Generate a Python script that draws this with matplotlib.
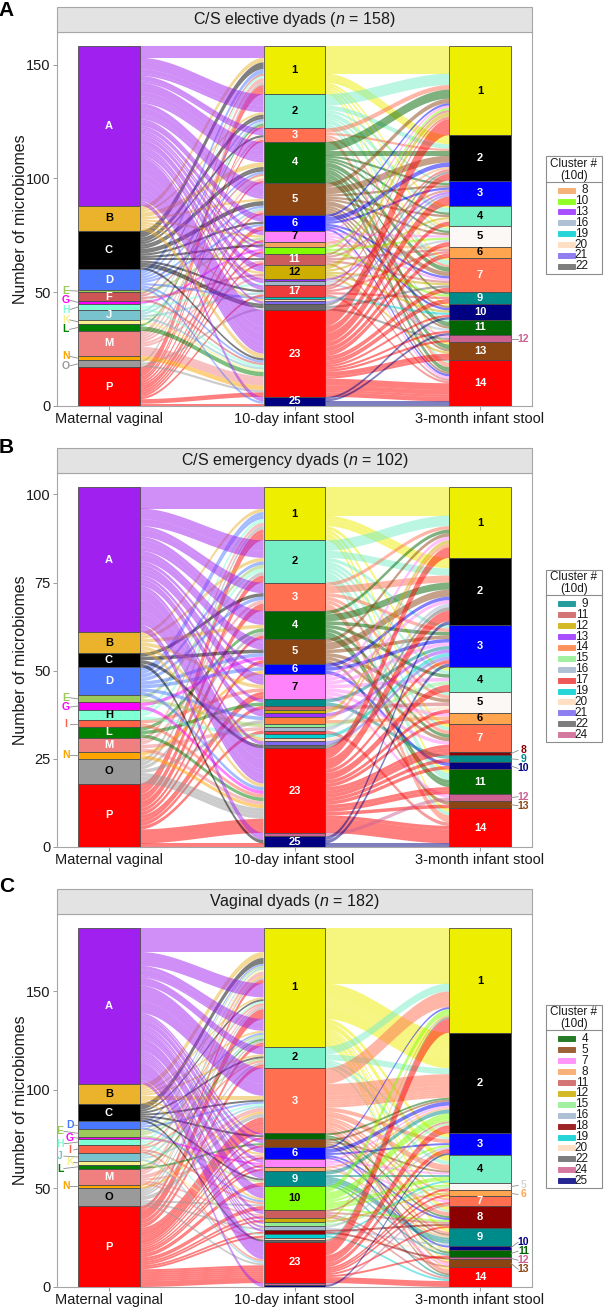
import numpy as np
import matplotlib
matplotlib.use('Agg')
import matplotlib.pyplot as plt
from matplotlib.collections import PolyCollection
from matplotlib.patches import Rectangle
from matplotlib.lines import Line2D

plt.rcParams['font.family'] = ['Liberation Sans', 'DejaVu Sans']
plt.rcParams['mathtext.fontset'] = 'custom'
plt.rcParams['mathtext.rm'] = 'Liberation Sans'
plt.rcParams['mathtext.it'] = 'Liberation Sans:italic'

# ----------------------------------------------------------------- data
AXIS_LABELS = ['Maternal vaginal', '10-day infant stool', '3-month infant stool']
MAT_ORDER = list('ABCDEFGHIJKLMNOP')

MAT_COL = {'A': '#A020F0', 'B': '#EBB22C', 'C': '#000000', 'D': '#4A78FF', 'E': '#9BC95A',
           'F': '#CD5555', 'G': '#FF00FF', 'H': '#7FFFD4', 'I': '#FF6347', 'J': '#79C3CF',
           'K': '#F8F08C', 'L': '#008000', 'M': '#F08080', 'N': '#FFA500', 'O': '#9A9A9A',
           'P': '#FF0000'}
D10_COL = {'1': '#EEEE00', '2': '#76EEC6', '3': '#FF6F50', '4': '#006400', '5': '#8B4513',
           '6': '#0000FF', '7': '#FF83FA', '8': '#F4A460', '9': '#008B8B', '10': '#7FFF00',
           '11': '#CD5C5C', '12': '#CDAD00', '13': '#9B30FF', '14': '#FF7F3F', '15': '#90EE90',
           '16': '#A2B5CD', '17': '#EE3B3B', '18': '#8B0000', '19': '#00CED1', '20': '#FFDAB9',
           '21': '#7B68EE', '22': '#666666', '23': '#FF0000', '24': '#CD6090', '25': '#000080'}
M3_COL = {'1': '#EEEE00', '2': '#000000', '3': '#0000FF', '4': '#76EEC6', '5': '#FBF8F6',
          '6': '#FFA54F', '7': '#FF6F50', '8': '#8B0000', '9': '#008B8B', '10': '#000080',
          '11': '#006400', '12': '#CD6090', '13': '#8B4513', '14': '#FF0000'}
MAT_DARK = {'B', 'E', 'H', 'K', 'N', 'O'}
D10_DARK = {'1', '2', '7', '10', '12'}
M3_DARK = {'1', '4', '5', '6'}

# ---- Panel A: C/S elective (flows maternal -> 10d, listed per 10-day cluster)
A_IN = {
    '1': [('A', 5), ('B', 2), ('C', 3), ('D', 2), ('F', 1), ('H', 1), ('M', 2), ('O', 1), ('P', 4)],
    '2': [('A', 8), ('B', 1), ('C', 2), ('D', 1), ('J', 1), ('L', 1), ('P', 1)],
    '3': [('A', 3), ('C', 1), ('M', 1), ('P', 1)],
    '4': [('A', 9), ('B', 2), ('C', 2), ('D', 1), ('F', 1), ('K', 1), ('M', 1), ('P', 1)],
    '5': [('A', 7), ('B', 1), ('C', 2), ('D', 1), ('J', 1), ('M', 1), ('P', 1)],
    '6': [('A', 3), ('C', 1), ('D', 1), ('P', 2)],
    '7': [('A', 2), ('B', 1), ('E', 1), ('P', 1)],
    '8': [('A', 1), ('C', 1)],
    '10': [('A', 1), ('G', 1), ('P', 1)],
    '11': [('A', 2), ('C', 1), ('M', 1), ('P', 1)],
    '12': [('A', 3), ('B', 1), ('F', 1), ('M', 1)],
    '13': [('A', 1)],
    '16': [('A', 1), ('H', 1)],
    '17': [('A', 2), ('C', 1), ('J', 1), ('P', 1)],
    '19': [('D', 1)],
    '20': [('B', 1)],
    '21': [('A', 1)],
    '22': [('C', 2), ('O', 1)],
    '23': [('A', 19), ('B', 2), ('C', 1), ('D', 1), ('F', 1), ('H', 1), ('J', 1), ('K', 1),
           ('L', 2), ('M', 4), ('N', 2), ('O', 1), ('P', 2)],
    '25': [('A', 2), ('D', 1), ('P', 1)],
}
A_OUT = {
    '1': [('1', 12), ('2', 4), ('4', 1), ('5', 1), ('7', 1), ('10', 1), ('13', 1)],
    '2': [('1', 5), ('2', 2), ('3', 1), ('4', 2), ('5', 1), ('7', 2), ('11', 1), ('14', 1)],
    '3': [('1', 2), ('2', 1), ('7', 1), ('14', 2)],
    '4': [('1', 4), ('2', 2), ('3', 1), ('4', 1), ('5', 1), ('7', 2), ('9', 1), ('11', 2),
          ('13', 2), ('14', 2)],
    '5': [('1', 2), ('2', 3), ('3', 1), ('4', 1), ('5', 1), ('7', 2), ('10', 1), ('11', 1),
          ('13', 1), ('14', 1)],
    '6': [('1', 1), ('2', 2), ('3', 1), ('7', 1), ('10', 1), ('14', 1)],
    '7': [('1', 1), ('5', 1), ('7', 1), ('12', 1), ('14', 1)],
    '8': [('2', 1), ('6', 1)],
    '10': [('1', 1), ('5', 1), ('9', 1)],
    '11': [('1', 1), ('3', 1), ('6', 1), ('7', 1), ('14', 1)],
    '12': [('1', 2), ('4', 1), ('7', 1), ('10', 1), ('13', 1)],
    '13': [('3', 1)],
    '16': [('5', 1), ('11', 1)],
    '17': [('1', 1), ('2', 1), ('6', 1), ('9', 1), ('14', 1)],
    '19': [('10', 1)],
    '20': [('4', 1)],
    '21': [('3', 1)],
    '22': [('2', 1), ('7', 1), ('12', 1)],
    '23': [('1', 7), ('2', 3), ('3', 4), ('4', 2), ('5', 2), ('6', 2), ('7', 2), ('9', 2),
           ('10', 1), ('11', 1), ('12', 1), ('13', 3), ('14', 8)],
    '25': [('10', 1), ('11', 1), ('14', 2)],
}
A_YTICKS = [0, 50, 100, 150]
A_LEGEND = ['8', '10', '13', '16', '19', '20', '21', '22']
A_MAT_OUT = ['E', 'G', 'H', 'K', 'L', 'N', 'O']
A_M3_OUT = ['12']

# ---- Panel B: C/S emergency
B_IN = {
    '1': [('A', 6), ('B', 1), ('D', 2), ('H', 1), ('M', 1), ('O', 1), ('P', 3)],
    '2': [('A', 5), ('B', 1), ('D', 1), ('E', 1), ('H', 1), ('O', 1), ('P', 2)],
    '3': [('A', 3), ('C', 1), ('D', 1), ('M', 1), ('P', 2)],
    '4': [('A', 4), ('B', 1), ('L', 1), ('O', 1), ('P', 1)],
    '5': [('A', 3), ('C', 1), ('D', 1), ('G', 1), ('P', 1)],
    '6': [('A', 1), ('D', 1), ('N', 1)],
    '7': [('A', 3), ('B', 1), ('I', 1), ('P', 2)],
    '9': [('A', 1), ('L', 1)],
    '11': [('P', 1)],
    '12': [('A', 1)],
    '13': [('A', 1)],
    '14': [('D', 1), ('O', 1)],
    '15': [('E', 1)],
    '16': [('M', 1)],
    '17': [('P', 1)],
    '19': [('H', 1)],
    '20': [('B', 1)],
    '21': [('A', 1)],
    '22': [('C', 1)],
    '23': [('A', 10), ('B', 1), ('D', 1), ('G', 1), ('I', 1), ('L', 1), ('M', 1), ('N', 1),
           ('O', 3), ('P', 4)],
    '24': [('A', 1)],
    '25': [('A', 1), ('C', 1), ('P', 1)],
}
B_OUT = {
    '1': [('1', 8), ('2', 3), ('4', 1), ('7', 1), ('11', 1), ('14', 1)],
    '2': [('1', 3), ('2', 2), ('3', 1), ('4', 1), ('5', 1), ('7', 1), ('11', 2), ('14', 1)],
    '3': [('1', 1), ('2', 2), ('3', 1), ('5', 1), ('7', 1), ('14', 2)],
    '4': [('1', 1), ('2', 2), ('3', 1), ('4', 1), ('7', 1), ('11', 2)],
    '5': [('1', 1), ('2', 2), ('3', 1), ('5', 1), ('7', 1), ('13', 1)],
    '6': [('2', 1), ('3', 1), ('10', 1)],
    '7': [('1', 1), ('2', 1), ('3', 1), ('4', 1), ('6', 1), ('7', 1), ('12', 1)],
    '9': [('3', 1), ('9', 1)],
    '11': [('5', 1)],
    '12': [('1', 1)],
    '13': [('3', 1)],
    '14': [('1', 1), ('6', 1)],
    '15': [('4', 1)],
    '16': [('2', 1)],
    '17': [('14', 1)],
    '19': [('3', 1)],
    '20': [('5', 1)],
    '21': [('3', 1)],
    '22': [('2', 1)],
    '23': [('1', 3), ('2', 3), ('3', 1), ('4', 2), ('5', 1), ('6', 1), ('7', 2), ('8', 1),
           ('9', 1), ('10', 1), ('11', 2), ('13', 1), ('14', 5)],
    '24': [('12', 1)],
    '25': [('2', 1), ('3', 1), ('14', 1)],
}
B_YTICKS = [0, 25, 50, 75, 100]
B_LEGEND = ['9', '11', '12', '13', '14', '15', '16', '17', '19', '20', '21', '22', '24']
B_MAT_OUT = ['E', 'G', 'I', 'N']
B_M3_OUT = ['8', '9', '10', '12', '13']

# ---- Panel C: vaginal
C_IN = {
    '1': [('A', 12), ('B', 3), ('C', 3), ('D', 1), ('E', 1), ('J', 1), ('K', 1), ('M', 2),
          ('N', 1), ('O', 1), ('P', 2),
          ('A', 7), ('P', 5), ('B', 1), ('C', 1), ('M', 1), ('O', 1), ('H', 1), ('I', 1),
          ('A', 6), ('B', 1), ('D', 1), ('E', 1), ('J', 1), ('L', 1), ('O', 1), ('P', 2)],
    '2': [('A', 4), ('B', 1), ('C', 1), ('E', 1), ('I', 1), ('O', 1), ('P', 2)],
    '3': [('A', 14), ('B', 2), ('C', 1), ('D', 1), ('H', 1), ('J', 1), ('M', 2), ('N', 1),
          ('O', 2), ('P', 8)],
    '4': [('A', 1), ('C', 1), ('P', 1)],
    '5': [('A', 2), ('L', 1), ('P', 1)],
    '6': [('A', 3), ('B', 1), ('M', 1), ('P', 1)],
    '7': [('A', 2), ('G', 1), ('P', 1)],
    '8': [('A', 1), ('P', 1)],
    '9': [('A', 4), ('C', 1), ('E', 1), ('P', 2)],
    '10': [('A', 6), ('B', 1), ('D', 1), ('I', 1), ('O', 1), ('P', 2)],
    '11': [('A', 2), ('M', 1), ('P', 1)],
    '12': [('A', 1), ('P', 1)],
    '15': [('A', 1), ('K', 1)],
    '16': [('A', 1), ('O', 1)],
    '18': [('A', 1), ('P', 1)],
    '19': [('H', 1), ('P', 1)],
    '20': [('M', 1)],
    '22': [('C', 1)],
    '23': [('A', 9), ('I', 1), ('J', 1), ('O', 1), ('P', 9)],
    '24': [('A', 1)],
    '25': [('A', 1)],
}
C_OUT = {
    '1': [('1', 28), ('2', 18), ('3', 2), ('4', 3), ('5', 1), ('7', 1), ('8', 2), ('9', 2),
          ('11', 1), ('13', 1), ('14', 1)],
    '2': [('1', 4), ('2', 3), ('3', 1), ('4', 2), ('8', 1)],
    '3': [('1', 8), ('2', 12), ('3', 2), ('4', 3), ('6', 1), ('7', 1), ('8', 2), ('9', 1),
          ('13', 1), ('14', 2)],
    '4': [('2', 1), ('8', 1), ('11', 1)],
    '5': [('2', 1), ('4', 1), ('9', 1), ('14', 1)],
    '6': [('1', 1), ('2', 2), ('3', 1), ('8', 1), ('10', 1)],
    '7': [('2', 1), ('4', 1), ('7', 1), ('13', 1)],
    '8': [('2', 1), ('9', 1)],
    '9': [('2', 2), ('4', 1), ('9', 3), ('11', 1), ('14', 1)],
    '10': [('1', 3), ('2', 4), ('3', 1), ('4', 2), ('5', 1), ('8', 1)],
    '11': [('2', 1), ('8', 1), ('13', 1), ('14', 1)],
    '12': [('1', 1), ('6', 1)],
    '15': [('2', 1), ('5', 1)],
    '16': [('3', 1), ('9', 1)],
    '18': [('8', 1), ('12', 1)],
    '19': [('4', 1), ('14', 1)],
    '20': [('10', 1)],
    '22': [('1', 1)],
    '23': [('1', 7), ('2', 4), ('3', 2), ('5', 1), ('6', 1), ('7', 1), ('8', 1), ('11', 1),
           ('14', 3)],
    '24': [('7', 1)],
    '25': [('3', 1)],
}
C_YTICKS = [0, 50, 100, 150]
C_LEGEND = ['4', '5', '7', '8', '11', '12', '15', '16', '18', '19', '20', '22', '24', '25']
C_MAT_OUT = ['D', 'E', 'G', 'H', 'I', 'J', 'K', 'L', 'N']
C_M3_OUT = ['5', '6', '10', '11', '12', '13']

TITLES = [r'C/S elective dyads ($\mathit{n}$ = 158)',
          r'C/S emergency dyads ($\mathit{n}$ = 102)',
          r'Vaginal dyads ($\mathit{n}$ = 182)']
LETTERS = ['A', 'B', 'C']

# ----------------------------------------------------------------- layout
W, H = 604, 1307
fig = plt.figure(figsize=(W / 100, H / 100), dpi=100)
PX_L, PX_R = 57, 532

PANELS = [
    dict(seg_in=A_IN, seg_out=A_OUT, yticks=A_YTICKS, legend=A_LEGEND, mat_out=A_MAT_OUT,
         m3_out=A_M3_OUT, top=32, bottom=406, strip_top=7, letter_y=11, mat_gap=9.5, stagger=False),
    dict(seg_in=B_IN, seg_out=B_OUT, yticks=B_YTICKS, legend=B_LEGEND, mat_out=B_MAT_OUT,
         m3_out=B_M3_OUT, top=473, bottom=847, strip_top=448, letter_y=447, mat_gap=9.5, stagger=False),
    dict(seg_in=C_IN, seg_out=C_OUT, yticks=C_YTICKS, legend=C_LEGEND, mat_out=C_MAT_OUT,
         m3_out=C_M3_OUT, top=914, bottom=1287, strip_top=889, letter_y=886, mat_gap=6.2, stagger=True),
]

WID = 1 / 3
U = np.linspace(0, 1, 48)
S = U * U * (3 - 2 * U)


def band(x0, x1, a0, b0, a1, b1):
    xs = x0 + (x1 - x0) * U
    top = a0 + (a1 - a0) * S
    bot = b0 + (b1 - b0) * S
    return np.column_stack([np.concatenate([xs, xs[::-1]]), np.concatenate([top, bot[::-1]])])


def build_triples(seg_in, seg_out):
    counts, order = {}, []
    for d in seg_in:
        ins = [m for m, c in seg_in[d] for _ in range(c)]
        outs = [t for t, c in seg_out[d] for _ in range(c)]
        if len(ins) != len(outs):
            raise ValueError('mismatch at cluster %s: %d vs %d' % (d, len(ins), len(outs)))
        for m, t in zip(ins, outs):
            k = (m, d, t)
            if k not in counts:
                counts[k] = 0
                order.append(k)
            counts[k] += 1
    return [(k, counts[k]) for k in order]


def repel(centers, gap, iters=500):
    y = list(centers)
    for _ in range(iters):
        moved = False
        for i in range(len(y) - 1):
            dd = y[i] - y[i + 1]
            if dd < gap - 1e-9:
                delta = (gap - dd) / 2
                y[i] += delta
                y[i + 1] -= delta
                moved = True
        if not moved:
            break
    return y


def fig_xy(px, py):
    return px / W, 1 - py / H


for pi, P in enumerate(PANELS):
    top, bottom = P['top'], P['bottom']
    ax = fig.add_axes([PX_L / W, 1 - bottom / H, (PX_R - PX_L) / W, (bottom - top) / H])
    triples = build_triples(P['seg_in'], P['seg_out'])
    ms = {k[0] for k, c in triples}
    ds = {k[1] for k, c in triples}
    ts = {k[2] for k, c in triples}
    m_list = [m for m in MAT_ORDER if m in ms]
    d_list = sorted(ds, key=int)
    t_list = sorted(ts, key=int)
    mi = {m: i for i, m in enumerate(m_list)}
    di = {d: i for i, d in enumerate(d_list)}
    ti = {t: i for i, t in enumerate(t_list)}
    N = sum(c for k, c in triples)
    ymax = N * 1.04

    def stack(levels, lev_of, skey):
        pos, sizes = {}, {}
        y = N
        for lev in levels:
            items = sorted([tc for tc in triples if lev_of(tc[0]) == lev], key=lambda tc: skey(tc[0]))
            t0 = y
            for k, c in items:
                pos[k] = (y, y - c)
                y -= c
            sizes[lev] = (t0, y)
        return pos, sizes

    pos_m, size_m = stack(m_list, lambda k: k[0], lambda k: (di[k[1]], ti[k[2]]))
    pos_d, size_d = stack(d_list, lambda k: k[1], lambda k: (ti[k[2]], mi[k[0]]))
    pos_t, size_t = stack(t_list, lambda k: k[2], lambda k: (di[k[1]], mi[k[0]]))

    polys1, cols1, polys2, cols2 = [], [], [], []
    for k, c in triples:
        m, d, t = k
        a0, b0 = pos_m[k]
        a1, b1 = pos_d[k]
        a2, b2 = pos_t[k]
        polys1.append(band(1 + WID / 2, 2 - WID / 2, a0, b0, a1, b1))
        cols1.append(MAT_COL[m])
        polys2.append(band(2 + WID / 2, 3 - WID / 2, a1, b1, a2, b2))
        cols2.append(D10_COL[d])
    ax.add_collection(PolyCollection(polys1, facecolors=cols1, edgecolors='none', alpha=0.5, zorder=1))
    ax.add_collection(PolyCollection(polys2, facecolors=cols2, edgecolors='none', alpha=0.5, zorder=1))

    # strata
    for xc, sizes, cols, dark, skip in [(1, size_m, MAT_COL, MAT_DARK, P['mat_out']),
                                        (2, size_d, D10_COL, D10_DARK, P['legend']),
                                        (3, size_t, M3_COL, M3_DARK, P['m3_out'])]:
        for lev, (t0, b0) in sizes.items():
            ax.add_patch(Rectangle((xc - WID / 2, b0), WID, t0 - b0, facecolor=cols[lev],
                                   edgecolor='#4D4D4D', lw=0.6, zorder=3))
            if lev not in skip:
                ax.text(xc, (t0 + b0) / 2, lev, ha='center', va='center', fontsize=8,
                        fontweight='bold', color='#000000' if lev in dark else '#FFFFFF', zorder=5)

    ppu = (bottom - top) / ymax  # pixels per unit

    # outside labels (maternal, left)
    outs = [m for m in m_list if m in P['mat_out']]
    cents = [(size_m[m][0] + size_m[m][1]) / 2 for m in outs]
    ys = repel(cents, P['mat_gap'] / ppu)
    xs = [0.768] * len(outs)
    if P['stagger']:
        grp = [0]
        for i in range(1, len(ys)):
            grp.append(grp[-1] if (ys[i - 1] - ys[i]) * ppu < 8 else grp[-1] + 1)
        for i in range(len(ys)):
            members = [j for j in range(len(ys)) if grp[j] == grp[i]]
            if len(members) > 1:
                xs[i] = 0.79 if (members.index(i) % 2 == 0) else 0.737
    for m, c, y, x in zip(outs, cents, ys, xs):
        ax.add_line(Line2D([x + 0.02, 1 - WID / 2], [y, c], color='#8C8C8C', lw=0.6, zorder=4,
                           clip_on=False))
        ax.text(x, y, m, ha='center', va='center', fontsize=7.5, fontweight='bold',
                color=MAT_COL[m], zorder=5, clip_on=False)

    # outside labels (3-month, right)
    outs = [t for t in t_list if t in P['m3_out']]
    cents = [(size_t[t][0] + size_t[t][1]) / 2 for t in outs]
    ys = repel(cents, 9.0 / ppu)
    for t, c, y in zip(outs, cents, ys):
        ax.add_line(Line2D([3 + WID / 2, 3.205], [c, y], color='#8C8C8C', lw=0.6, zorder=4,
                           clip_on=False))
        col = M3_COL[t] if t != '5' else '#D6D6D6'
        ax.text(3.234, y, t, ha='center', va='center', fontsize=7.5, fontweight='bold',
                color=col, zorder=5, clip_on=False)

    ax.set_xlim(0.72, 3.28)
    ax.set_ylim(0, ymax)
    ax.set_xticks([1, 2, 3])
    ax.set_xticklabels(AXIS_LABELS, fontsize=10.5, color='#1A1A1A')
    ax.set_yticks(P['yticks'])
    ax.set_yticklabels([str(v) for v in P['yticks']], fontsize=10.5, color='#1A1A1A')
    ax.tick_params(length=3, color='#8C8C8C', width=0.6, pad=1.5)
    for sp in ax.spines.values():
        sp.set_color('#A6A6A6')
        sp.set_linewidth(0.8)

    # strip
    x0, y0 = fig_xy(PX_L, top)
    x1, y1 = fig_xy(PX_R, P['strip_top'])
    fig.patches.append(Rectangle((x0, y0), x1 - x0, y1 - y0, transform=fig.transFigure,
                                 facecolor='#E3E3E3', edgecolor='#A6A6A6', lw=0.8))
    fig.text((x0 + x1) / 2, (y0 + y1) / 2, TITLES[pi], ha='center', va='center',
             fontsize=11.5, color='#1A1A1A')
    # panel letter
    fx, fy = fig_xy(6.5, P['letter_y'])
    fig.text(fx, fy, LETTERS[pi], ha='center', va='center', fontsize=15, fontweight='bold')
    # y label
    fx, fy = fig_xy(21, (top + bottom) / 2)
    fig.text(fx, fy, 'Number of microbiomes', rotation=90, ha='center', va='center',
             fontsize=11.5, color='#1A1A1A')

    # legend
    leg = P['legend']
    step = 10.9
    hgt = 34 + (len(leg) - 1) * step + 7.5
    ltop = (top + bottom) / 2 - 4 - hgt / 2
    bx0, by0 = fig_xy(546, ltop + hgt)
    bx1, by1 = fig_xy(602, ltop)
    fig.patches.append(Rectangle((bx0, by0), bx1 - bx0, by1 - by0, transform=fig.transFigure,
                                 facecolor='white', edgecolor='#8C8C8C', lw=0.8))
    sx0, sy = fig_xy(546, ltop + 25.5)
    sx1, _ = fig_xy(602, ltop + 25.5)
    fig.lines.append(Line2D([sx0, sx1], [sy, sy], transform=fig.transFigure, color='#8C8C8C', lw=0.8))
    fx, fy = fig_xy(574, ltop + 7.5)
    fig.text(fx, fy, 'Cluster #', ha='center', va='center', fontsize=8.5, color='#1A1A1A')
    fx, fy = fig_xy(574, ltop + 19.5)
    fig.text(fx, fy, '(10d)', ha='center', va='center', fontsize=8.5, color='#1A1A1A')
    for i, lab in enumerate(leg):
        yy = ltop + 34 + i * step
        kx0, ky0 = fig_xy(558, yy + 2.5)
        kx1, ky1 = fig_xy(575, yy - 2.5)
        fig.patches.append(Rectangle((kx0, ky0), kx1 - kx0, ky1 - ky0, transform=fig.transFigure,
                                     facecolor=D10_COL[lab], edgecolor=D10_COL[lab], lw=0.6, alpha=0.85))
        tx, ty = fig_xy(588, yy)
        fig.text(tx, ty, lab, ha='right', va='center', fontsize=8.5, color='#1A1A1A')

fig.savefig('out.png', dpi=100)
